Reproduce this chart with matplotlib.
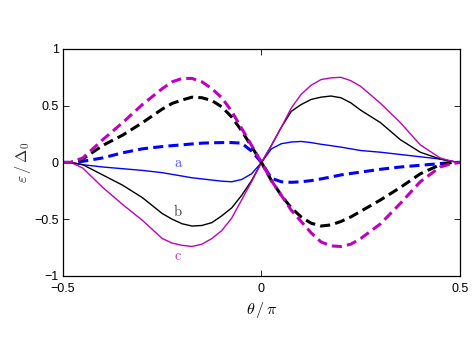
import numpy as np
import matplotlib
matplotlib.use('Agg')
import matplotlib.pyplot as plt

# theta / pi sample points
theta = [-0.5, -0.48, -0.45, -0.4, -0.35, -0.3, -0.25, -0.225, -0.2, -0.175, -0.15,
         -0.125, -0.1, -0.075, -0.05, -0.025, 0, 0.025, 0.05, 0.075, 0.1, 0.125,
         0.15, 0.175, 0.2, 0.225, 0.25, 0.3, 0.35, 0.4, 0.45, 0.48, 0.5]

# solid curves (a, b, c)
eps_a = [0, 0, -0.02, -0.04, -0.055, -0.07, -0.09, -0.105, -0.12, -0.135, -0.145,
         -0.155, -0.165, -0.17, -0.15, -0.10, 0, 0.12, 0.165, 0.18, 0.185, 0.175,
         0.16, 0.148, 0.135, 0.12, 0.105, 0.09, 0.07, 0.05, 0.03, 0.01, 0]
eps_b = [0, 0, -0.02, -0.11, -0.2, -0.31, -0.45, -0.50, -0.54, -0.56, -0.555,
         -0.53, -0.47, -0.40, -0.29, -0.16, 0, 0.15, 0.31, 0.45, 0.51, 0.555,
         0.575, 0.585, 0.57, 0.525, 0.46, 0.35, 0.2, 0.09, 0.03, 0.01, 0]
eps_c = [0, 0, -0.05, -0.22, -0.37, -0.51, -0.67, -0.71, -0.73, -0.74, -0.72,
         -0.67, -0.60, -0.49, -0.33, -0.17, 0, 0.15, 0.31, 0.48, 0.60, 0.68,
         0.73, 0.745, 0.75, 0.72, 0.67, 0.52, 0.35, 0.155, 0.04, 0.01, 0]

# dashed curves
eps_a_dash = [0, 0, 0.01, 0.04, 0.085, 0.12, 0.14, 0.148, 0.155, 0.163, 0.17,
              0.173, 0.175, 0.175, 0.17, 0.10, 0, -0.14, -0.17, -0.175, -0.17,
              -0.16, -0.145, -0.128, -0.11, -0.097, -0.085, -0.06, -0.04, -0.025,
              -0.01, 0, 0]
eps_b_dash = [0, 0, 0.03, 0.15, 0.24, 0.35, 0.47, 0.52, 0.55, 0.575, 0.57,
              0.545, 0.49, 0.40, 0.28, 0.14, 0, -0.16, -0.29, -0.40, -0.48,
              -0.535, -0.56, -0.55, -0.52, -0.48, -0.43, -0.33, -0.22, -0.10,
              -0.02, 0, 0]
eps_c_dash = [0, 0, 0.04, 0.2, 0.35, 0.51, 0.65, 0.71, 0.74, 0.74, 0.71,
              0.65, 0.57, 0.45, 0.30, 0.15, 0, -0.16, -0.29, -0.42, -0.52,
              -0.62, -0.70, -0.735, -0.74, -0.72, -0.67, -0.54, -0.36, -0.17,
              -0.04, -0.01, 0]

x_ticks = [-0.5, 0, 0.5]
y_ticks = [-1, -0.5, 0, 0.5, 1]

BLUE = '#0000ff'
MAGENTA = '#c000c0'


def main():
    plt.rcParams['font.family'] = ['Liberation Sans', 'DejaVu Sans']
    plt.rcParams['mathtext.fontset'] = 'cm'

    fig = plt.figure(figsize=(4.72, 3.42), dpi=100)
    ax = fig.add_axes([0.1335, 0.193, 0.841, 0.664])

    ax.plot(theta, eps_a, color=BLUE, lw=1.0)
    ax.plot(theta, eps_b, color='black', lw=1.0)
    ax.plot(theta, eps_c, color=MAGENTA, lw=1.0)

    dash = (3.3, 1.7)
    ax.plot(theta, eps_a_dash, color=BLUE, lw=2.2, dashes=dash)
    ax.plot(theta, eps_b_dash, color='black', lw=2.2, dashes=dash)
    ax.plot(theta, eps_c_dash, color=MAGENTA, lw=2.2, dashes=dash)

    # curve labels
    ax.text(-0.21, -0.005, r'$\mathrm{a}$', color='#4646ff', fontsize=10.5,
            ha='center', va='center')
    ax.text(-0.21, -0.43, r'$\mathrm{b}$', color='#404040', fontsize=10.5,
            ha='center', va='center')
    ax.text(-0.21, -0.82, r'$\mathrm{c}$', color='#c040c0', fontsize=10.5,
            ha='center', va='center')

    ax.set_xlim(-0.5, 0.5)
    ax.set_ylim(-1, 1)
    ax.set_xticks(x_ticks)
    ax.set_xticklabels(['\u22120.5', '0', '0.5'])
    ax.set_yticks(y_ticks)
    ax.set_yticklabels(['\u22121', '\u22120.5', '0', '0.5', '1'])
    ax.tick_params(direction='in', length=4, width=0.6, top=True, right=True,
                   labelsize=9, pad=3)
    ax.tick_params(axis='x', pad=5)
    for s in ax.spines.values():
        s.set_linewidth(0.9)

    ax.set_xlabel(r'$\theta\,/\,\pi$', fontsize=11.5, labelpad=4)
    ax.set_ylabel(r'$\varepsilon\,/\,\Delta_0$', fontsize=11.5, labelpad=1,
                  color='#303030')

    fig.savefig('out.png', dpi=100)


if __name__ == "__main__":
    main()
